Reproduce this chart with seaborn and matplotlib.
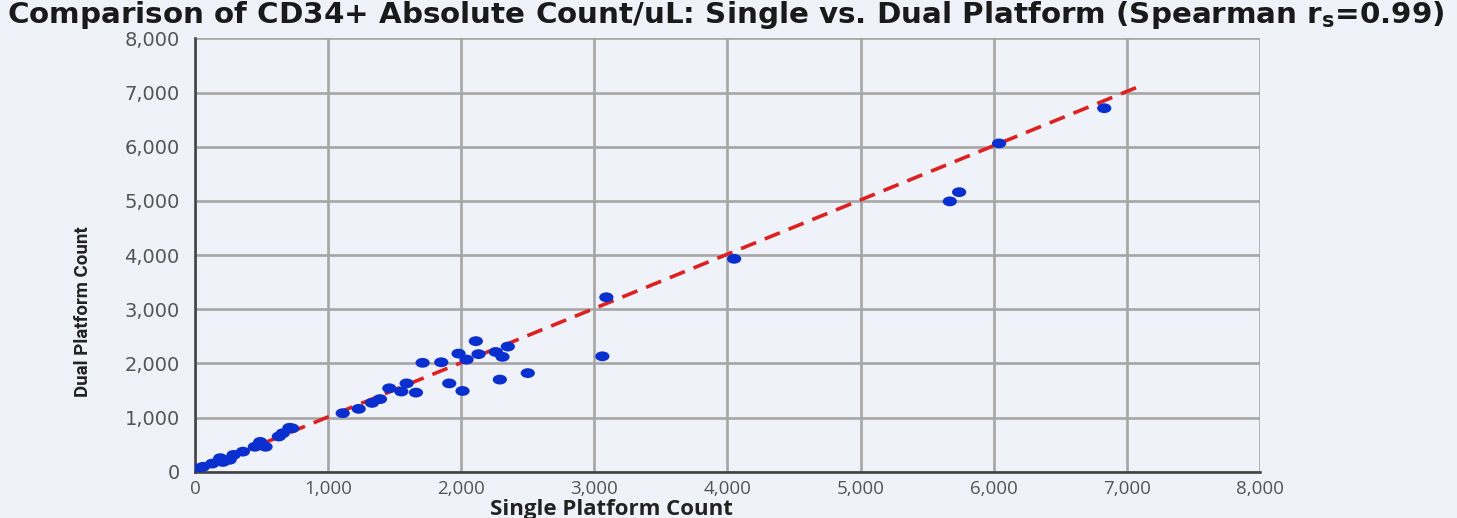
import matplotlib
matplotlib.use("Agg")
from matplotlib import pyplot as plt
from matplotlib.path import Path
from matplotlib.transforms import Affine2D
import pandas as pd
import seaborn as sns

# values
single_platform = [10, 60, 130, 190, 210, 260, 290, 360, 450, 490,
                   530, 630, 660, 710, 730, 1110, 1230, 1330, 1390, 1460,
                   1550, 1590, 1660, 1710, 1850, 1910, 1980, 2010, 2040, 2110,
                   2130, 2260, 2290, 2310, 2350, 2500, 3060, 3090, 4050, 5670,
                   5740, 6040, 6830]
dual_platform = [60, 90, 150, 250, 180, 220, 310, 370, 460, 550,
                 460, 650, 710, 810, 800, 1080, 1160, 1270, 1340, 1540,
                 1480, 1630, 1460, 2010, 2020, 1630, 2180, 1490, 2070, 2410,
                 2170, 2210, 1700, 2120, 2310, 1820, 2130, 3220, 3930, 4990,
                 5160, 6060, 6710]

# fitted trend line end points
fit_x = [0, 7130]
fit_y = [10, 7150]

ticks = [0, 1000, 2000, 3000, 4000, 5000, 6000, 7000, 8000]
tick_labels = ["0", "1,000", "2,000", "3,000", "4,000", "5,000", "6,000", "7,000", "8,000"]

bg = "#eff2f8"

sns.set_theme(style="whitegrid")
plt.rcParams["font.family"] = ["DejaVu Sans"]
plt.rcParams["mathtext.fontset"] = "dejavusans"

df = pd.DataFrame({"single": single_platform, "dual": dual_platform})
fit = pd.DataFrame({"x": fit_x, "y": fit_y})

# slightly wide dot, like the reference markers
oval = Path.unit_circle().transformed(Affine2D().scale(1.45, 1.0))

fig = plt.figure(figsize=(14.57, 5.18), dpi=100, facecolor=bg)
ax = fig.add_axes([0.1338, 0.0894, 0.7310, 0.8366])
ax.set_facecolor(bg)

sns.lineplot(data=fit, x="x", y="y", ax=ax, color="#dd2020", linewidth=2.6, zorder=2)
ax.lines[-1].set_dashes([4.5, 2.6])
sns.scatterplot(data=df, x="single", y="dual", ax=ax, color="#0a2fcf", s=105,
                marker=oval, edgecolor="none", zorder=3)

ax.set_xlim(0, 8000)
ax.set_ylim(0, 8000)
ax.set_xticks(ticks)
ax.set_xticklabels(tick_labels)
ax.set_yticks(ticks)
ax.set_yticklabels(tick_labels)
ax.grid(True, color="#a6a6a6", linewidth=1.9)
ax.tick_params(axis="y", colors="#8a8a8a", labelcolor="#555555", labelsize=14,
               length=8, width=1.2, pad=3)
ax.tick_params(axis="x", colors="#8a8a8a", labelcolor="#555555", labelsize=13.5,
               length=4, width=1.2, pad=2)
for lab in ax.get_xticklabels():
    lab.set_fontfamily("Open Sans")

for side in ["top", "right"]:
    ax.spines[side].set_visible(False)
for side in ["left", "bottom"]:
    ax.spines[side].set_color("#444444")
    ax.spines[side].set_linewidth(1.9)

ax.set_xlabel("")
ax.set_ylabel("")
fig.text(611 / 1457, 1 - 515 / 518, "Single Platform Count", ha="center", va="baseline",
         fontsize=16, fontweight="bold", fontfamily="Open Sans", color="#222222")
fig.text(83 / 1457, 1 - 312 / 518, "Dual Platform Count", ha="center", va="center",
         rotation=90, fontsize=13.5, fontweight="bold",
         fontfamily=["Liberation Sans Narrow", "Roboto"], color="#222222")

fig.text(0.498, 1 - 23 / 518,
         r"Comparison of CD34+ Absolute Count/uL: Single vs. Dual Platform (Spearman r$_{\mathbf{s}}$=0.99)",
         ha="center", va="baseline", fontsize=21.2, fontweight="bold", color="#1a1a1a")

fig.savefig("out.png", dpi=100, facecolor=bg)
